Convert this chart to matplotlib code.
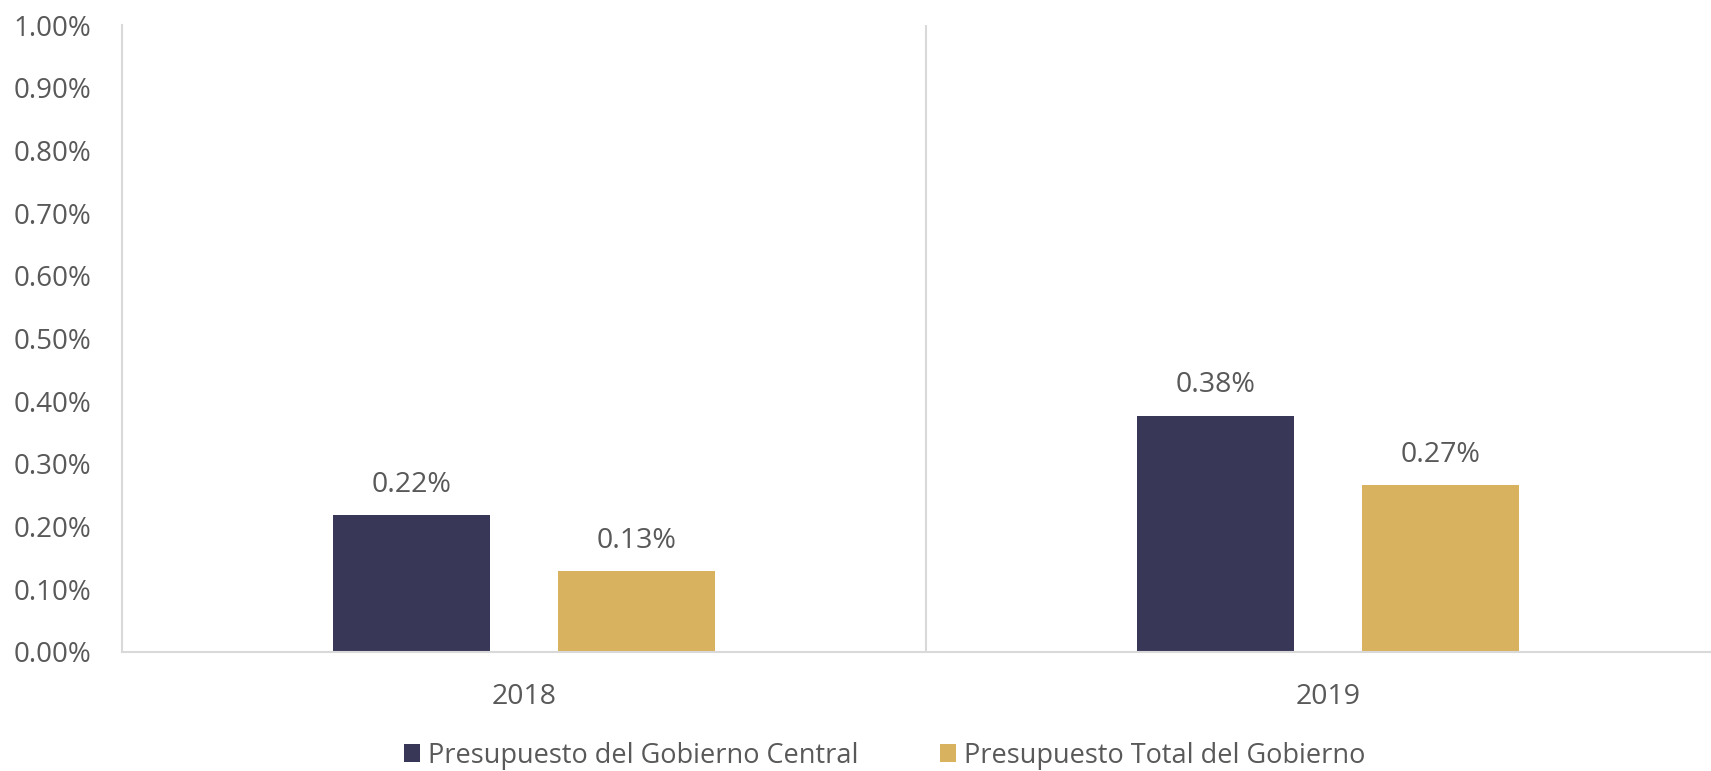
import matplotlib.pyplot as plt
import numpy as np
from matplotlib.ticker import PercentFormatter

plt.rcParams['font.family'] = ['Open Sans', 'DejaVu Sans']

years = ["2018", "2019"]
central = [0.00218, 0.00377]
total = [0.00129, 0.00266]
central_labels = ["0.22%", "0.38%"]
total_labels = ["0.13%", "0.27%"]
series_names = ["Presupuesto del Gobierno Central", "Presupuesto Total del Gobierno"]

navy = "#393757"
gold = "#d8b25f"
grey_text = "#595959"
grey_line = "#d9d9d9"

fig = plt.figure(figsize=(17.11, 7.71), dpi=100)
ax = fig.add_axes([122 / 1711, 119 / 771, 1608 / 1711, 627 / 771])

x = np.arange(len(years))
w = 0.195
off = 0.14
b1 = ax.bar(x - off, central, w, color=navy, label=series_names[0])
b2 = ax.bar(x + off, total, w, color=gold, label=series_names[1])

for rect, lab in zip(b1, central_labels):
    ax.annotate(lab, (rect.get_x() + rect.get_width() / 2, rect.get_height()),
                xytext=(0, 22), textcoords="offset points", ha="center", va="center",
                fontsize=20.5, color=grey_text)
for rect, lab in zip(b2, total_labels):
    ax.annotate(lab, (rect.get_x() + rect.get_width() / 2, rect.get_height()),
                xytext=(0, 22), textcoords="offset points", ha="center", va="center",
                fontsize=20.5, color=grey_text)

ax.set_xlim(-0.5, 1.5)
ax.set_ylim(0, 0.01)
ax.set_yticks(np.arange(0, 0.0101, 0.001))
ax.yaxis.set_major_formatter(PercentFormatter(1.0, decimals=2))
ax.tick_params(axis="y", length=0, pad=22, labelsize=20, labelcolor=grey_text)
ax.set_xticks(x, years)
ax.tick_params(axis="x", length=0, pad=22, labelsize=20.5, labelcolor=grey_text)

ax.spines[["top", "right"]].set_visible(False)
for s in ["left", "bottom"]:
    ax.spines[s].set_color(grey_line)
    ax.spines[s].set_linewidth(1.5)
ax.axvline(0.5, color=grey_line, linewidth=1.5)

fig.legend(handles=[b1, b2], loc="center", bbox_to_anchor=(0.517, 0.02), ncol=2,
           frameon=False, fontsize=19.5, labelcolor=grey_text, handlelength=0.6,
           handleheight=0.6, handletextpad=0.3, columnspacing=3.0)

fig.savefig("out.png", dpi=100)
